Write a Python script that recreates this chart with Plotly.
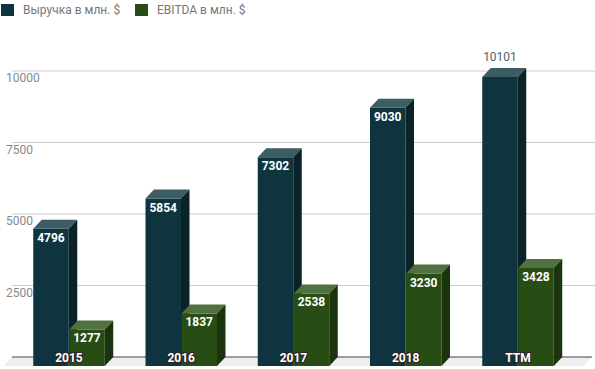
import plotly.graph_objects as go

# ---- data ----
categories = ["2015", "2016", "2017", "2018", "TTM"]
revenue = [4796, 5854, 7302, 9030, 10101]
ebitda = [1277, 1837, 2538, 3230, 3428]
tick_values = [2500, 5000, 7500, 10000, 12500]
tick_labels = ["2500", "5000", "7500", "10000", ""]
series_names = ["Выручка в млн. $", "EBITDA в млн. $"]

# ---- layout constants (pixels) ----
W, H = 595, 369
CAT_PX = 112.25       # pixel distance between categories
CAT0_PX = 77.5        # pixel x of first category centre (back plane)
BASE_PX = 357         # pixel y of value 0 (back plane)
UNIT_PX = 0.0286      # pixels per value unit
DEPTH_X_PX = 8.5
DEPTH_Y_PX = 9
BAR_PX = 35.5
PAIR_OFF_PX = 18
FONT = "Roboto, Arial, sans-serif"

x_range = [-CAT0_PX / CAT_PX, (W - CAT0_PX) / CAT_PX]
y_range = [-(H - BASE_PX) / UNIT_PX, BASE_PX / UNIT_PX]


def px_x(n):
    return n / CAT_PX


def px_y(n):
    return n / UNIT_PX


dx, dy, bw, off = px_x(DEPTH_X_PX), px_y(DEPTH_Y_PX), px_x(BAR_PX), px_x(PAIR_OFF_PX)

colors = {
    "rev": ("#0e3440", "#3b5d63", "#0a2329"),
    "ebit": ("#284d14", "#50703f", "#1a340d"),
}


def faces(values, offset):
    fx, fy, tx, ty, sx, sy = [], [], [], [], [], []
    for i, v in enumerate(values):
        xl = i + offset - bw / 2
        xr = i + offset + bw / 2
        fx += [xl - dx, xr - dx, xr - dx, xl - dx, xl - dx, None]
        fy += [-dy, -dy, v - dy, v - dy, -dy, None]
        tx += [xl - dx, xr - dx, xr, xl, xl - dx, None]
        ty += [v - dy, v - dy, v, v, v - dy, None]
        sx += [xr - dx, xr, xr, xr - dx, xr - dx, None]
        sy += [-dy, 0, v, v - dy, -dy, None]
    return (fx, fy), (tx, ty), (sx, sy)


fig = go.Figure()

for values, offset, key in [(revenue, -off, "rev"), (ebitda, off, "ebit")]:
    for (xs, ys), col in zip(faces(values, offset), colors[key]):
        fig.add_trace(go.Scatter(
            x=xs, y=ys, mode="lines", fill="toself", fillcolor=col,
            line=dict(width=0, color=col), hoverinfo="skip", showlegend=False,
        ))

# value labels
top_tick = max(v for v, t in zip(tick_values, tick_labels) if t)
for values, offset in [(revenue, -off), (ebitda, off)]:
    in_x, in_y, in_t, out_x, out_y, out_t = [], [], [], [], [], []
    for i, v in enumerate(values):
        cx = i + offset - dx
        if v > top_tick:
            out_x.append(cx); out_y.append(v + px_y(10)); out_t.append(str(v))
        else:
            in_x.append(cx); in_y.append(v - dy - px_y(10)); in_t.append(str(v))
    fig.add_trace(go.Scatter(
        x=in_x, y=in_y, text=in_t, mode="text", hoverinfo="skip", showlegend=False,
        textfont=dict(family=FONT, size=12, color="#ffffff", weight="bold"),
    ))
    if out_x:
        fig.add_trace(go.Scatter(
            x=out_x, y=out_y, text=out_t, mode="text", hoverinfo="skip", showlegend=False,
            textfont=dict(family=FONT, size=12, color="#4f6168"),
        ))

# category labels
outline = ("-1px -1px 0 #2a2a2a, 1px -1px 0 #2a2a2a, -1px 1px 0 #2a2a2a, 1px 1px 0 #2a2a2a, "
           "0 1px 0 #2a2a2a, 0 -1px 0 #2a2a2a, 1px 0 0 #2a2a2a, -1px 0 0 #2a2a2a")
fig.add_trace(go.Scatter(
    x=[i - dx for i in range(len(categories))],
    y=[-px_y(2)] * len(categories),
    text=categories, mode="text", hoverinfo="skip", showlegend=False, cliponaxis=False,
    textfont=dict(family=FONT, size=12, color="#ffffff", weight="bold", shadow=outline),
))

shapes = []
# floor
fx0, fx1 = 12 / W, 592 / W
shapes.append(dict(
    type="path", xref="paper", yref="y",
    path=f"M {fx0},0 L {fx1},0 L {fx1 - DEPTH_X_PX / W},{-dy} L {fx0 - DEPTH_X_PX / W},{-dy} Z",
    fillcolor="#eeeeee", line=dict(width=0), layer="below",
))
# gridlines
for v, t in zip(tick_values, tick_labels):
    x_start = 12 / W if t else 160 / W
    shapes.append(dict(type="line", xref="paper", yref="y", x0=x_start, x1=1, y0=v, y1=v,
                       line=dict(color="#cccccc", width=1), layer="below"))
# baseline
shapes.append(dict(type="line", xref="paper", yref="y", x0=12 / W, x1=592 / W, y0=0, y1=0,
                   line=dict(color="#444444", width=1), layer="below"))

annotations = []
for v, t in zip(tick_values, tick_labels):
    if t:
        annotations.append(dict(
            x=4 / W, xref="paper", y=v, yref="y", text=t, showarrow=False,
            xanchor="left", yanchor="middle", yshift=-7,
            font=dict(family=FONT, size=12, color="#888888"),
        ))

# legend (manual)
legend_x = [1, 135]
for name, key, lx in zip(series_names, ["rev", "ebit"], legend_x):
    shapes.append(dict(type="rect", xref="paper", yref="paper",
                       x0=lx / W, x1=(lx + 13) / W, y0=1 - 16 / H, y1=1 - 4 / H,
                       fillcolor=colors[key][0], line=dict(width=0)))
    annotations.append(dict(
        x=(lx + 20) / W, xref="paper", y=1 - 10 / H, yref="paper", text=name, showarrow=False,
        xanchor="left", yanchor="middle",
        font=dict(family=FONT, size=12, color="#777777"),
    ))

fig.update_layout(
    width=W, height=H, autosize=False,
    margin=dict(l=0, r=0, t=0, b=0, pad=0),
    paper_bgcolor="#ffffff", plot_bgcolor="#ffffff",
    xaxis=dict(range=x_range, visible=False, fixedrange=True),
    yaxis=dict(range=y_range, visible=False, fixedrange=True),
    shapes=shapes, annotations=annotations, showlegend=False,
)

fig.write_html(
    "out.html",
    config={"displayModeBar": False},
    post_script="document.body.style.margin='0';document.body.style.padding='0';"
                "document.body.style.overflow='hidden';",
)
